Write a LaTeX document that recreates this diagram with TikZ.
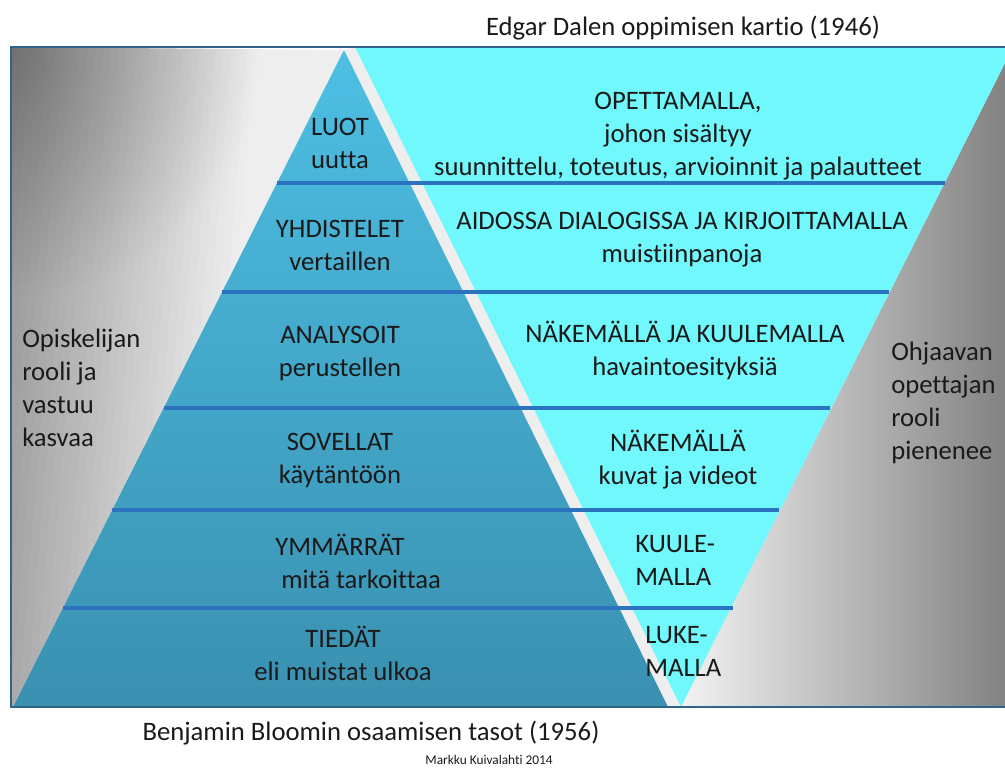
\documentclass[tikz,border=0pt]{standalone}
\usepackage{fontspec}
\setmainfont{Carlito}[Ligatures={NoCommon}]
\usetikzlibrary{fadings}
\tikzfading[name=cornerfade, inner color=transparent!0, outer color=transparent!100]
\definecolor{pyrtop}{HTML}{4DBFE3}
\definecolor{pyrbot}{HTML}{3A90B0}
\definecolor{conecol}{HTML}{70F8FC}
\definecolor{levline}{HTML}{2C73BF}
\definecolor{framecol}{HTML}{30648A}
\definecolor{txtcol}{HTML}{1A1A1A}
\definecolor{stripcol}{HTML}{EEEEEE}
\begin{document}
\begin{tikzpicture}[x=0.75pt,y=-0.75pt,
  lbl/.style={inner sep=0pt,align=center,text=txtcol,font=\fontsize{20}{24.75}\selectfont},
  lblleft/.style={lbl,align=left,anchor=west},
  lev/.style={draw=levline,line width=3pt},
]
\useasboundingbox (0,0) rectangle (1005,769);
% frame corners
\coordinate (ftl) at (11,47);
\coordinate (fbl) at (11,707);
\coordinate (fbr) at (1005,707);
\coordinate (ftr) at (1005,47);
% pyramid
\coordinate (pa) at (344,50);
\coordinate (pl) at (13,707);
\coordinate (pr) at (668,707);
% cone (inverted)
\coordinate (cl) at (355,47);
\coordinate (cr) at (1013,47);
\coordinate (ca) at (681,707);

\begin{scope}
\clip (ftl) rectangle (fbr);
\fill[white] (ftl) rectangle (fbr);
% left background: tilted gradient drawn as strips
\begin{scope}
\clip (ftl) -- (pa) -- (pl) -- (fbl) -- cycle;
\foreach \x in {0,8,...,360}{
  \pgfmathtruncatemacro\v{min(238,150+0.36*(\x+4-11))}
  \definecolor{bgstrip}{RGB}{\v,\v,\v}
  \fill[bgstrip] (\x,40) -- (\x+9,40) -- (\x+9-54,710) -- (\x-54,710) -- cycle;
}
\fill[black,fill opacity=0.25,path fading=cornerfade] (ftl) circle[radius=250];
\end{scope}
% right background
\shade[left color=white!95!black,middle color=white!86!black,right color=white!50!black] (cr) -- (ftr) -- (fbr) -- (ca) -- cycle;
% strip between the two triangles
\fill[stripcol] (pa) -- (cl) -- (ca) -- (pr) -- cycle;
% cone
\fill[conecol] (cl) -- (cr) -- (ca) -- cycle;
% pyramid
\shade[top color=pyrtop,bottom color=pyrbot] (pa) -- (pr) -- (pl) -- cycle;
\end{scope}

% level lines
\coordinate (l1a) at (277,183); \coordinate (l1b) at (945,183);
\coordinate (l2a) at (222,292); \coordinate (l2b) at (889,292);
\coordinate (l3a) at (164,408); \coordinate (l3b) at (830,408);
\coordinate (l4a) at (112,510); \coordinate (l4b) at (779,510);
\coordinate (l5a) at (63,608);  \coordinate (l5b) at (733,608);
\draw[lev] (l1a) -- (l1b);
\draw[lev] (l2a) -- (l2b);
\draw[lev] (l3a) -- (l3b);
\draw[lev] (l4a) -- (l4b);
\draw[lev] (l5a) -- (l5b);

% frame
\draw[framecol,line width=1.5pt] (ftr) -- (ftl) -- (fbl) -- (fbr);

% pyramid labels
\node[lbl] (luot) at (340,143) {LUOT\\uutta};
\node[lbl] (yhd) at (340,245) {YHDISTELET\\vertaillen};
\node[lbl] (ana) at (340,353) {ANALYSOIT\\perustellen};
\node[lbl] (sov) at (340,460) {SOVELLAT\\käytäntöön};
\node[lblleft] (ymm) at (275,561) {YMMÄRRÄT\\\ mitä tarkoittaa};
\node[lbl] (tie) at (343,653) {TIEDÄT\\eli muistat ulkoa};

% cone labels
\node[lbl] (ope) at (678,136) {OPETTAMALLA,\\johon sisältyy\\suunnittelu, toteutus, arvioinnit ja palautteet};
\node[lbl] (aid) at (682,240) {AIDOSSA DIALOGISSA JA KIRJOITTAMALLA\\muistiinpanoja};
\node[lbl] (nkk) at (685,350) {NÄKEMÄLLÄ JA KUULEMALLA\\havaintoesityksiä};
\node[lbl] (nak) at (678,460) {NÄKEMÄLLÄ\\kuvat ja videot};
\node[lblleft] (kuu) at (635,560) {KUULE-\\MALLA};
\node[lblleft] (luk) at (645,651) {LUKE-\\MALLA};

% side labels
\node[lblleft] (opi) at (22,388) {Opiskelijan\\rooli ja\\vastuu\\kasvaa};
\node[lblleft] (ohj) at (891,403) {Ohjaavan\\opettajan\\rooli\\pienenee};

% titles
\node[lbl] (dale) at (683,28) {Edgar Dalen oppimisen kartio (1946)};
\node[lbl] (bloom) at (371,733) {Benjamin Bloomin osaamisen tasot (1956)};
\node[lbl,font=\fontsize{10}{12}\selectfont] (auth) at (489,760) {Markku Kuivalahti 2014};
\end{tikzpicture}
\end{document}
